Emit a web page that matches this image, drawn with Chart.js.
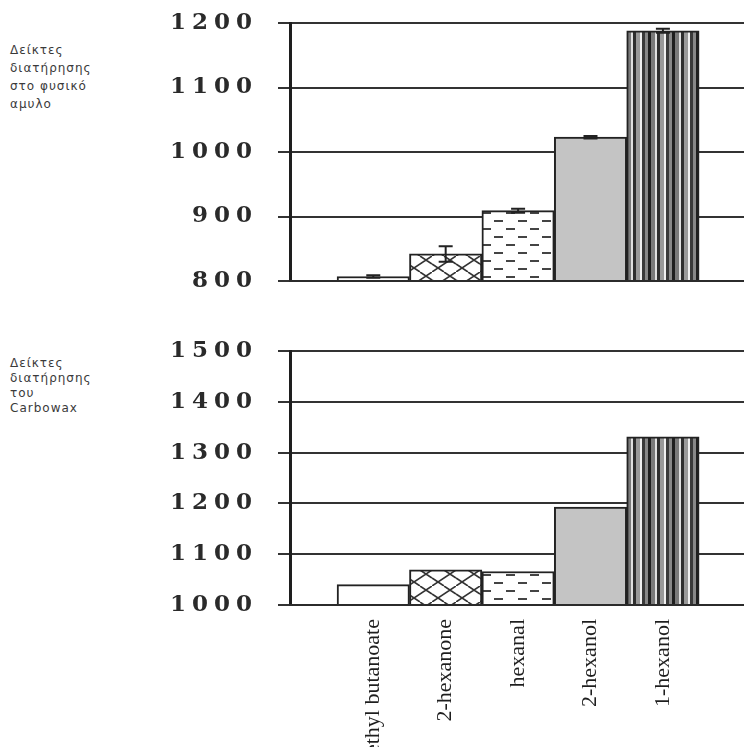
<!DOCTYPE html>
<html lang="el">
<head>
<meta charset="utf-8">
<script src="https://cdn.jsdelivr.net/npm/chart.js@4.4.1/dist/chart.umd.min.js"></script>
<style>
  html, body { margin: 0; padding: 0; background: #fff; overflow: hidden; }
  body { width: 744px; height: 747px; position: relative; }
  .box { position: absolute; left: 0; width: 744px; }
  #topBox { top: 0; height: 300px; }
  #bottomBox { top: 330px; height: 435px; }
  .axis-note {
    position: absolute; left: 10px;
    font-family: "DejaVu Sans", sans-serif; font-size: 12px;
    letter-spacing: 1px; color: #3a3a3a;
  }
</style>
</head>
<body>
<div class="axis-note" style="top:41px; line-height:18px">Δείκτες<br>διατήρησης<br>στο φυσικό<br>αμυλο</div>
<div class="axis-note" style="top:356px; line-height:15px">Δείκτες<br>διατήρησης<br>του<br>Carbowax</div>
<div class="box" id="topBox"><canvas id="starchChart"></canvas></div>
<div class="box" id="bottomBox"><canvas id="carbowaxChart"></canvas></div>
<script>
const compounds = ["ethyl butanoate", "2-hexanone", "hexanal", "2-hexanol", "1-hexanol"];
const starchIndex = [807, 842, 909, 1023, 1188];
const starchError = [2, 12, 3, 2, 3];
const starchTicks = [800, 900, 1000, 1100, 1200];
const carbowaxIndex = [1040, 1069, 1066, 1193, 1331];
const carbowaxTicks = [1000, 1100, 1200, 1300, 1400, 1500];

function makePattern(w, h, paint) {
  const c = document.createElement("canvas");
  c.width = w;
  c.height = h;
  const g = c.getContext("2d");
  paint(g, w, h);
  return g.createPattern(c, "repeat");
}

const weave = makePattern(24, 16, (g, w, h) => {
  g.fillStyle = "#fff";
  g.fillRect(0, 0, w, h);
  g.strokeStyle = "#333";
  g.lineWidth = 1.6;
  g.beginPath();
  g.moveTo(0, h); g.lineTo(w, 0);
  g.moveTo(0, h / 2); g.lineTo(w / 2, h);
  g.moveTo(w / 2, 0); g.lineTo(w, h / 2);
  g.stroke();
});

const dashes = makePattern(24, 16, (g, w, h) => {
  g.fillStyle = "#fff";
  g.fillRect(0, 0, w, h);
  g.fillStyle = "#444";
  g.fillRect(2, 4, 9, 2);
  g.fillRect(14, 12, 9, 2);
});

const stripes = makePattern(24, 4, (g, w, h) => {
  const cols = [["#1e1e1e", 3], ["#7a7a7a", 4], ["#e0e0e0", 2], ["#2e2e2e", 3],
                ["#999", 4], ["#f0f0f0", 2], ["#3a3a3a", 3], ["#888", 3]];
  let x = 0;
  cols.forEach(([c, cw]) => { g.fillStyle = c; g.fillRect(x, 0, cw, h); x += cw; });
});

const fills = ["#fff", weave, dashes, "#c4c4c4", stripes];

// wider digits on the value axis, plain spacing for everything after it
const spacedTicks = {
  id: "spacedTicks",
  beforeDraw(chart) { chart.ctx.letterSpacing = "6px"; },
  beforeDatasetsDraw(chart) { chart.ctx.letterSpacing = "0px"; }
};

const errorBars = {
  id: "errorBars",
  afterDatasetsDraw(chart, args, opts) {
    const errs = opts.values;
    if (!errs) {
      return;
    }
    const meta = chart.getDatasetMeta(0);
    const y = chart.scales.y;
    const ctx = chart.ctx;
    ctx.save();
    ctx.strokeStyle = "#222";
    ctx.lineWidth = 2;
    meta.data.forEach((bar, i) => {
      const v = chart.data.datasets[0].data[i].y;
      const top = y.getPixelForValue(v + errs[i]);
      const bottom = y.getPixelForValue(v - errs[i]);
      ctx.beginPath();
      ctx.moveTo(bar.x, top); ctx.lineTo(bar.x, bottom);
      ctx.moveTo(bar.x - 7, top); ctx.lineTo(bar.x + 7, top);
      ctx.moveTo(bar.x - 7, bottom); ctx.lineTo(bar.x + 7, bottom);
      ctx.stroke();
    });
    ctx.restore();
  }
};

function buildChart(id, values, ticks, cfg) {
  return new Chart(document.getElementById(id), {
    type: "bar",
    data: {
      datasets: [{
        data: values.map((v, i) => ({ x: i + 1, y: v })),
        backgroundColor: fills,
        borderColor: "#222",
        borderWidth: 2,
        barPercentage: 1,
        categoryPercentage: 1
      }]
    },
    options: {
      responsive: true,
      maintainAspectRatio: false,
      animation: false,
      layout: { padding: { top: cfg.top, bottom: cfg.bottom, left: 0, right: 0 } },
      plugins: {
        legend: { display: false },
        tooltip: { enabled: false },
        errorBars: { values: cfg.errors || null }
      },
      scales: {
        x: {
          type: "linear",
          offset: false,
          min: -0.15,
          max: 6.12,
          afterBuildTicks: (axis) => { axis.ticks = compounds.map((_, i) => ({ value: i + 1 })); },
          afterFit: (axis) => { if (cfg.xHeight) axis.height = cfg.xHeight; },
          grid: { display: false },
          border: { display: true, color: "#2b2b2b", width: 2, z: 1 },
          ticks: {
            display: !!cfg.labels,
            autoSkip: false,
            minRotation: 90,
            maxRotation: 90,
            padding: 6,
            z: 1,
            color: "#1e1e1e",
            font: { family: "Liberation Serif", size: 22 },
            callback: (v) => compounds[v - 1] ?? ""
          }
        },
        y: {
          min: ticks[0],
          max: ticks[ticks.length - 1],
          afterBuildTicks: (axis) => { axis.ticks = ticks.map((v) => ({ value: v })); },
          afterFit: (axis) => {
            axis.width = 290;
            axis.paddingTop = 0;
            axis.paddingBottom = 0;
          },
          grid: { color: "#333", lineWidth: 2, tickLength: 12 },
          border: { color: "#1e1e1e", width: 3 },
          ticks: {
            padding: 20,
            color: "#2a2a2a",
            font: { family: "DejaVu Serif", size: 23, weight: "bold" },
            callback: (v) => String(v)
          }
        }
      }
    },
    plugins: [spacedTicks, errorBars]
  });
}

buildChart("starchChart", starchIndex, starchTicks, { top: 23, bottom: 11, errors: starchError });
buildChart("carbowaxChart", carbowaxIndex, carbowaxTicks, { top: 21, bottom: 0, labels: true, xHeight: 160 });
</script>
</body>
</html>
